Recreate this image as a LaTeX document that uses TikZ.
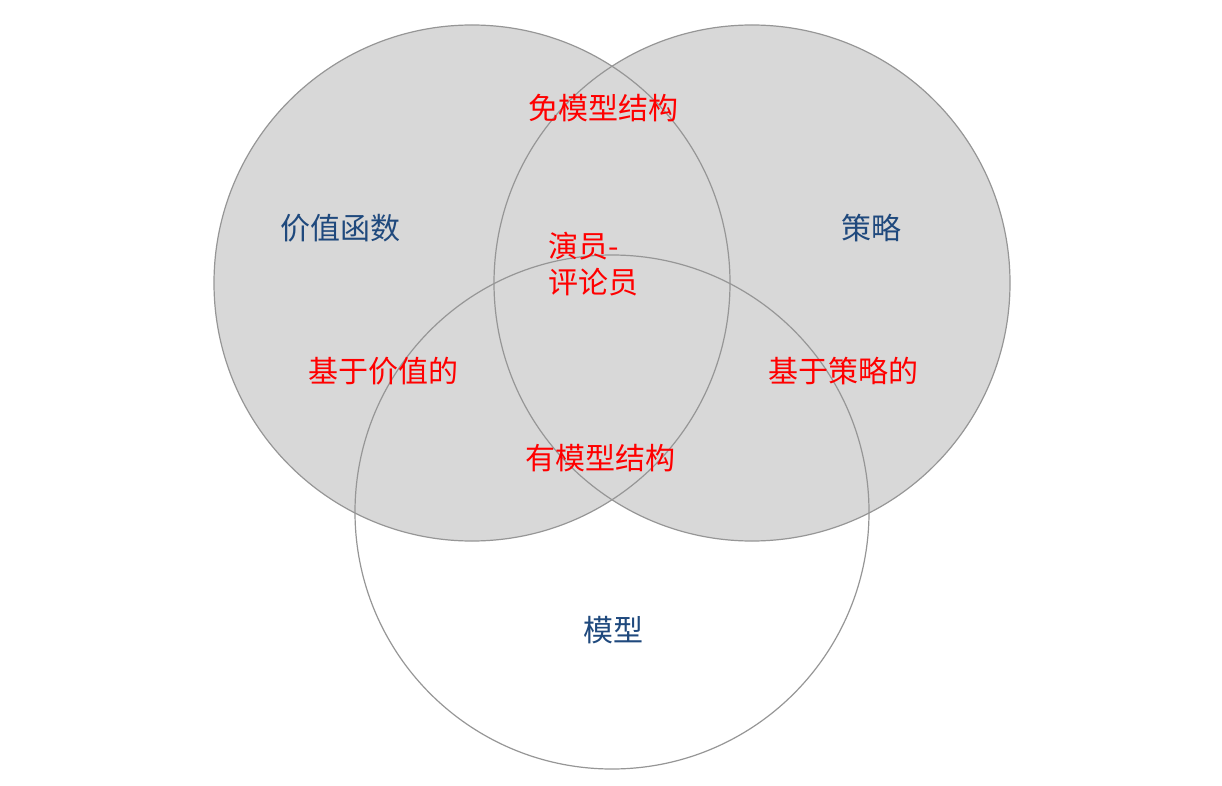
\documentclass[tikz,border=0pt]{standalone}
\usepackage{fontspec}
\newfontfamily\cjk{Noto Sans CJK SC}
\definecolor{lblue}{RGB}{31,73,125}
\definecolor{cgray}{RGB}{216,216,216}
\definecolor{cline}{RGB}{150,150,150}
\begin{document}
\begin{tikzpicture}[x=1pt,y=-1pt,
  blue lbl/.style={text=lblue,font=\cjk\fontsize{30}{36}\selectfont},
  red lbl/.style={text=red,font=\cjk\fontsize{30}{36}\selectfont},
  ring/.style={draw=cline,line width=1.2pt}]
\useasboundingbox (0,0) rectangle (1222,786);
\fill[white] (612,512) circle (257);
\fill[cgray] (472,283) circle (258);
\fill[cgray] (752,283) circle (258);
\draw[ring] (612,512) circle (257);
\draw[ring] (472,283) circle (258);
\draw[ring] (752,283) circle (258);
\node[blue lbl] (vf) at (340,228) {价值函数};
\node[blue lbl] (pol) at (871,228) {策略};
\node[blue lbl] (mod) at (613,630) {模型};
\node[red lbl] (mf) at (603,108) {免模型结构};
\node[red lbl,align=left,anchor=west] (ac) at (545,264) {演员-\\评论员};
\node[red lbl] (vb) at (383,371) {基于价值的};
\node[red lbl] (pb) at (843,371) {基于策略的};
\node[red lbl] (mb) at (600,458) {有模型结构};
\end{tikzpicture}
\end{document}
